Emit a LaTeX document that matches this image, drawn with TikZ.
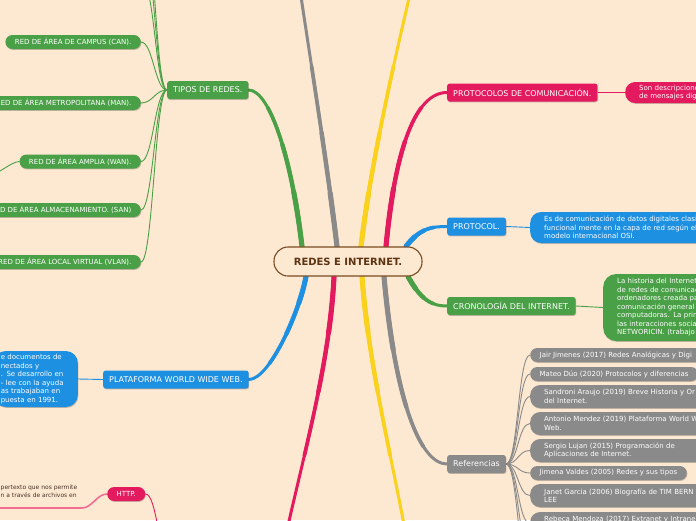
\documentclass[tikz,border=0pt]{standalone}
\usepackage{fontspec}
\setmainfont{DejaVu Sans}
\usetikzlibrary{shadows,calc}
\definecolor{bgc}{RGB}{253,232,209}
\definecolor{G}{RGB}{74,160,70}
\definecolor{B}{RGB}{30,144,226}
\definecolor{P}{RGB}{228,26,94}
\definecolor{Gr}{RGB}{138,138,138}
\definecolor{Y}{RGB}{250,210,30}
\definecolor{brn}{RGB}{120,76,34}
\definecolor{dbrn}{RGB}{92,52,18}
\definecolor{txd}{RGB}{70,50,40}
\definecolor{pl}{RGB}{240,110,145}
\pgfdeclarelayer{back}
\pgfdeclarelayer{bg}
\pgfsetlayers{back,bg,main}
% tapered main branch: #1 colour, #2..#5 the four Bezier points
\newcommand\tbranch[5]{%
  \coordinate (tb0) at #2; \coordinate (tb1) at #3;
  \coordinate (tb2) at #4; \coordinate (tb3) at #5;
  \draw[line width=3pt, #1, line cap=round] (tb0) .. controls (tb1) and (tb2) .. (tb3);
  \foreach \t/\w in {0.7/3.7pt, 0.45/4.4pt, 0.22/5.1pt} {
    \coordinate (a1) at ($(tb0)!\t!(tb1)$);
    \coordinate (a2) at ($(tb1)!\t!(tb2)$);
    \coordinate (a3) at ($(tb2)!\t!(tb3)$);
    \coordinate (b1) at ($(a1)!\t!(a2)$);
    \coordinate (b2) at ($(a2)!\t!(a3)$);
    \coordinate (tm) at ($(b1)!\t!(b2)$);
    \draw[line width=\w, #1, line cap=round] (tb0) .. controls (a1) and (b1) .. (tm);
  }%
}
\begin{document}
\begin{tikzpicture}[x=1pt,y=-1pt,
  every node/.style={text=white, font=\fontsize{7}{8.5}\selectfont, inner ysep=0pt},
  shad/.style={drop shadow={shadow xshift=0.6pt, shadow yshift=-0.9pt, opacity=0.22, fill=black}},
  mainbox/.style={shad, rounded corners=2.5pt, inner xsep=6pt, minimum height=18pt, font=\fontsize{8}{9}\selectfont, anchor=west},
  pill/.style={shad, rounded corners=7pt, inner xsep=9.5pt, minimum height=14pt},
  bigbox/.style={shad, rounded corners=11pt, align=left, inner xsep=14pt, inner ysep=3pt, anchor=west},
  refbig/.style={bigbox, fill=Gr, text width=200pt, minimum height=23pt, rounded corners=10pt, inner ysep=2pt},
  conn/.style={line width=0.9pt},
]
\path[use as bounding box] (0,0) rectangle (696,520);
\begin{pgfonlayer}{back}
\fill[bgc] (0,0) rectangle (696,520);
\end{pgfonlayer}

% centre
\node[draw=brn, line width=1.1pt, fill=bgc, rounded corners=14pt, minimum width=148pt, minimum height=29pt, text=dbrn, font=\bfseries\fontsize{10}{12}\selectfont] (c) at (348,261.5) {REDES E INTERNET.};

% left: tipos de redes
\node[mainbox, fill=G] (tipos) at (167,90) {TIPOS DE REDES.};
\node[pill, fill=G, anchor=east] (can) at (141,42) {RED DE ÁREA DE CAMPUS (CAN).};
\node[pill, fill=G, anchor=east] (man) at (141,103) {RED DE ÁREA METROPOLITANA (MAN).};
\node[pill, fill=G, anchor=east] (wan) at (141,161.5) {RED DE ÁREA AMPLIA (WAN).};
\node[pill, fill=G, anchor=east] (san) at (141,210) {RED DE ÁREA ALMACENAMIENTO. (SAN)};
\node[pill, fill=G, anchor=east] (vlan) at (141,262) {RED DE ÁREA LOCAL VIRTUAL (VLAN).};
\coordinate (wanc) at (-12,176);
\coordinate (up1) at (141,-20);
\coordinate (up2) at (141,-55);
\coordinate (up3) at (141,-90);

% left: www
\node[mainbox, fill=B] (www) at (103,379.5) {PLATAFORMA WORLD WIDE WEB.};
\node[bigbox, fill=B, anchor=east, text width=70pt, inner xsep=7pt, minimum height=56pt, rounded corners=12pt] (wwwc) at (78,379) {e documentos de\\nectados y\\. Se desarrollo en\\- lee con la ayuda\\as trabajaban en\\puesta en 1991.};

% left: http
\node[pill, fill=P, anchor=west] (http) at (107,494) {HTTP.};
\node[anchor=south west, text=txd, font=\fontsize{6}{8}\selectfont, align=left, inner xsep=0pt, inner ysep=1pt] (httpc) at (0.5,498.5) {pertexto que nos permite\\n a través de archivos en};
\coordinate (ulL) at (-5,508);
\coordinate (ulR) at (82,508);
\coordinate (httpp) at (172,560);

% right
\node[mainbox, fill=P] (prot) at (447,92.5) {PROTOCOLOS DE COMUNICACIÓN.};
\node[bigbox, fill=P, text width=150pt, rounded corners=10pt, minimum height=21pt, inner ysep=2pt] (protc) at (625,92.5) {Son descripcione\\de mensajes dig};

\node[mainbox, fill=B] (protocol) at (447,226.5) {PROTOCOL.};
\node[bigbox, fill=B, text width=200pt, minimum height=31pt] (protocolc) at (530,227.5) {Es de comunicación de datos digitales clasi\\funcional mente en la capa de red según el\\modelo internacional OSI.};

\node[mainbox, fill=G] (crono) at (447,306) {CRONOLOGÍA DEL INTERNET.};
\node[bigbox, fill=G, text width=150pt, minimum height=67pt, rounded corners=13pt] (cronoc) at (603,307.5) {La historia del Internet\\de redes de comunicac\\ordenadores creada pa\\comunicación general\\computadoras. La prim\\las interacciones social\\NETWORICIN. (trabajo};

\node[mainbox, fill=Gr] (refs) at (447,464) {Referencias};
\node[pill, fill=Gr, anchor=west] (r1) at (530,355) {Jair Jimenes (2017) Redes Analógicas y Digi};
\node[pill, fill=Gr, anchor=west] (r2) at (530,374) {Mateo Dúo (2020) Protocolos y diferencias};
\node[refbig] (r3) at (530,396.5) {Sandroni Araujo (2019) Breve Historia y Or\\del Internet.};
\node[refbig] (r4) at (530,423.5) {Antonio Mendez (2019) Plataforma World W\\Web.};
\node[refbig] (r5) at (530,450.5) {Sergio Lujan (2015) Programación de\\Aplicaciones de Internet.};
\node[pill, fill=Gr, anchor=west] (r6) at (530,473) {Jimena Valdes (2005) Redes y sus tipos};
\node[refbig] (r7) at (530,495.5) {Janet Garcia (2006) Biografía de TIM BERN\\LEE};
\node[refbig] (r8) at (530,523.5) {Rebeca Mendoza (2017) Extranet y Intrane\\\mbox{}};
\coordinate (rd1) at (530,548);
\coordinate (rd2) at (530,575);

% off-page ends of main branches
\coordinate (gtop) at (300,-10);
\coordinate (ytop) at (411,-10);
\coordinate (pbot) at (287,530);
\coordinate (ybot) at (405,530);

\begin{pgfonlayer}{bg}
% main branches
\tbranch{G}{([xshift=-46pt]c.north)}{(292,160)}{(270,90)}{(tipos.east)}
\tbranch{Gr}{([xshift=-11pt]c.north)}{(328,170)}{(312,70)}{(gtop)}
\tbranch{Y}{([xshift=13pt]c.north)}{(370,170)}{(392,70)}{(ytop)}
\tbranch{P}{([xshift=38pt]c.north)}{(395,150)}{(415,92.5)}{(prot.west)}
\tbranch{B}{([xshift=58pt]c.north)}{(420,228)}{(432,226.5)}{(protocol.west)}
\tbranch{B}{([xshift=-42pt]c.south)}{(300,310)}{(270,379.5)}{(www.east)}
\tbranch{P}{([xshift=-14pt]c.south)}{(330,360)}{(305,450)}{(pbot)}
\tbranch{Y}{([xshift=14pt]c.south)}{(368,360)}{(390,450)}{(ybot)}
\tbranch{Gr}{([xshift=36pt]c.south)}{(395,400)}{(420,464)}{(refs.west)}
\tbranch{G}{([xshift=60pt]c.south)}{(420,298)}{(430,306)}{(crono.west)}
% thin connectors
\foreach \n in {can,man,wan,san,vlan}
  \draw[conn, G] (tipos.west) .. controls +(-12,0) and +(12,0) .. (\n.east);
\foreach \n in {up1,up2,up3}
  \draw[conn, G] (tipos.west) .. controls +(-12,0) and +(14,0) .. (\n);
\draw[conn, G] (wan.west) .. controls +(-8,0) and +(8,0) .. (wanc);
\draw[conn, B] (wwwc.east) -- (www.west);
\draw[line width=1.6pt, pl] (ulL) -- (ulR) .. controls +(10,0) and +(-10,0) .. (http.west);
\draw[conn, P] (http.east) .. controls +(12,0) and +(-14,0) .. (httpp);
\draw[conn, P] (prot.east) -- (protc.west);
\draw[conn, B] (protocol.east) -- (protocolc.west);
\draw[conn, G] (crono.east) -- (cronoc.west);
\foreach \n in {r1,r2,r3,r4,r5,r6,r7,r8}
  \draw[conn, Gr] (refs.east) .. controls +(12,0) and +(-12,0) .. (\n.west);
\foreach \n in {rd1,rd2}
  \draw[conn, Gr] (refs.east) .. controls +(12,0) and +(-12,0) .. (\n);
\end{pgfonlayer}
\end{tikzpicture}
\end{document}
